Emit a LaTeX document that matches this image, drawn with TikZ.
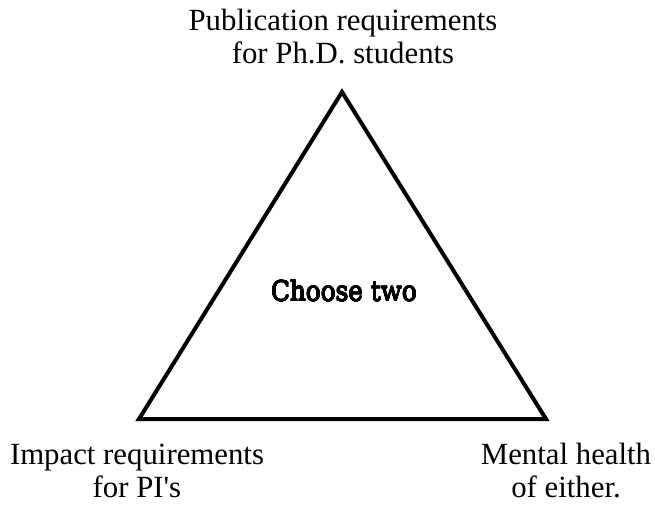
\documentclass[tikz,border=0pt]{standalone}
\usepackage{fontspec}
\usepackage[copies]{contour}
\setmainfont{Liberation Serif}[Ligatures=TeXOff]
\newfontfamily\centrefont{DejaVu Serif Condensed}
\contourlength{0.3pt}
\contournumber{16}
\begin{document}
\begin{tikzpicture}[x=1pt,y=-1pt,
  label/.style={inner sep=0pt, align=center, anchor=base,
    font=\fontsize{30.8}{32.5}\selectfont},
  centre/.style={inner sep=0pt, anchor=base,
    font=\centrefont\fontsize{27.5}{32}\selectfont},
  side/.style={line width=4pt, line join=miter}]
  \useasboundingbox (0,0) rectangle (655,504);
  % corners of the triangle
  \coordinate (top) at (342,92);
  \coordinate (bl) at (139,419);
  \coordinate (br) at (546,419);
  \draw[side] (top) -- (br) -- (bl) -- cycle;
  % corner captions (base anchor sits on the last line)
  \node[label] (pub) at (343,63) {Publication requirements\\for Ph.D. students};
  \node[label] (impact) at (137,497) {Impact requirements\\for PI's};
  \node[label] (mental) at (566,497) {Mental health\\of either.};
  % the centre caption is set with a thin black outline
  \node[centre] (choose) at (344,301) {\contour{black}{Choose two}};
\end{tikzpicture}
\end{document}
